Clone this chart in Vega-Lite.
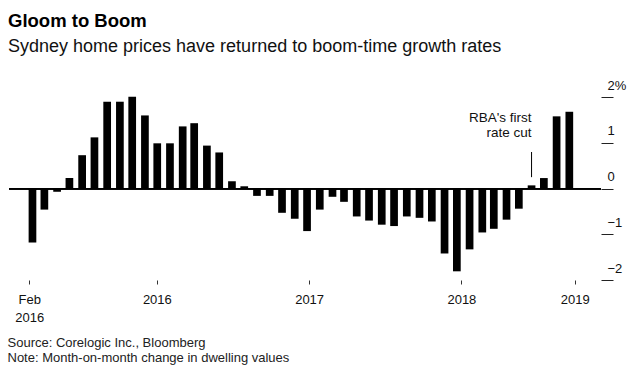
{
  "$schema": "https://vega.github.io/schema/vega-lite/v6.json",
  "autosize": "none",
  "width": 592,
  "height": 192,
  "padding": {"left": 9, "top": 88, "right": 40, "bottom": 102},
  "background": "#ffffff",
  "title": {
    "text": "Gloom to Boom",
    "subtitle": "Sydney home prices have returned to boom-time growth rates",
    "anchor": "start",
    "frame": "group",
    "dx": -1,
    "offset": 23,
    "font": "Liberation Sans",
    "fontSize": 18.5,
    "fontWeight": "bold",
    "color": "#000000",
    "subtitleFont": "Liberation Sans",
    "subtitleFontSize": 18,
    "subtitleColor": "#111111",
    "subtitlePadding": 8
  },
  "config": {
    "view": {"stroke": null},
    "font": "Liberation Sans",
    "text": {"font": "Liberation Sans"}
  },
  "datasets": {
    "prices": [
      {"date": "2016-02-01", "change": -1.18},
      {"date": "2016-03-01", "change": -0.46},
      {"date": "2016-04-01", "change": -0.07},
      {"date": "2016-05-01", "change": 0.23},
      {"date": "2016-06-01", "change": 0.73},
      {"date": "2016-07-01", "change": 1.12},
      {"date": "2016-08-01", "change": 1.9},
      {"date": "2016-09-01", "change": 1.9},
      {"date": "2016-10-01", "change": 2.01},
      {"date": "2016-11-01", "change": 1.6},
      {"date": "2016-12-01", "change": 0.99},
      {"date": "2017-01-01", "change": 0.99},
      {"date": "2017-02-01", "change": 1.36},
      {"date": "2017-03-01", "change": 1.43},
      {"date": "2017-04-01", "change": 0.94},
      {"date": "2017-05-01", "change": 0.79},
      {"date": "2017-06-01", "change": 0.16},
      {"date": "2017-07-01", "change": 0.05},
      {"date": "2017-08-01", "change": -0.16},
      {"date": "2017-09-01", "change": -0.16},
      {"date": "2017-10-01", "change": -0.53},
      {"date": "2017-11-01", "change": -0.66},
      {"date": "2017-12-01", "change": -0.93},
      {"date": "2018-01-01", "change": -0.46},
      {"date": "2018-02-01", "change": -0.18},
      {"date": "2018-03-01", "change": -0.29},
      {"date": "2018-04-01", "change": -0.61},
      {"date": "2018-05-01", "change": -0.7},
      {"date": "2018-06-01", "change": -0.79},
      {"date": "2018-07-01", "change": -0.82},
      {"date": "2018-08-01", "change": -0.61},
      {"date": "2018-09-01", "change": -0.64},
      {"date": "2018-10-01", "change": -0.72},
      {"date": "2018-11-01", "change": -1.42},
      {"date": "2018-12-01", "change": -1.81},
      {"date": "2019-01-01", "change": -1.33},
      {"date": "2019-02-01", "change": -0.96},
      {"date": "2019-03-01", "change": -0.88},
      {"date": "2019-04-01", "change": -0.68},
      {"date": "2019-05-01", "change": -0.44},
      {"date": "2019-06-01", "change": 0.07},
      {"date": "2019-07-01", "change": 0.23},
      {"date": "2019-08-01", "change": 1.58},
      {"date": "2019-09-01", "change": 1.68}
    ],
    "notes": [
      {"date": "2019-06-01", "top": 0.8, "bottom": 0.25, "labelY": 1.46, "label": "RBA's first\nrate cut"}
    ]
  },
  "encoding": {
    "x": {
      "field": "date",
      "type": "temporal",
      "scale": {
        "type": "utc",
        "domain": [
          {"year": 2015, "month": 12, "date": 18, "utc": true},
          {"year": 2019, "month": 11, "date": 5, "utc": true}
        ]
      },
      "axis": {
        "values": [
          {"year": 2016, "month": 1, "date": 24, "utc": true},
          {"year": 2016, "month": 11, "date": 30, "utc": true},
          {"year": 2017, "month": 12, "date": 6, "utc": true},
          {"year": 2018, "month": 12, "date": 12, "utc": true},
          {"year": 2019, "month": 9, "date": 14, "utc": true}
        ],
        "labelExpr": "utcmonth(datum.value) == 0 ? ['Feb', '2016'] : utcFormat(datum.value, '%Y')",
        "domain": false,
        "grid": false,
        "ticks": true,
        "tickSize": 4,
        "tickColor": "#333333",
        "labelFont": "Liberation Sans",
        "labelFontSize": 13,
        "labelColor": "#111111",
        "labelPadding": 9,
        "labelLineHeight": 18,
        "labelAlign": "center",
        "labelFlush": false,
        "labelOverlap": false,
        "labelBound": false,
        "title": ["Source: Corelogic Inc., Bloomberg", "Note: Month-on-month change in dwelling values"],
        "titleFont": "Liberation Sans",
        "titleFontSize": 13,
        "titleFontWeight": "normal",
        "titleColor": "#222222",
        "titleAlign": "left",
        "titleBaseline": "top",
        "titleLineHeight": 15,
        "titleX": -2,
        "titleY": 56
      }
    }
  },
  "layer": [
    {
      "data": {"name": "prices"},
      "mark": {"type": "bar", "width": 7.7, "color": "#000000"},
      "encoding": {
        "y": {
          "field": "change",
          "type": "quantitative",
          "scale": {"domain": [-2, 2.2], "nice": false, "zero": false},
          "axis": {
            "orient": "right",
            "values": [-2, -1, 0, 1, 2],
            "labelExpr": "datum.value == 2 ? '2%' : format(datum.value, 'd')",
            "domain": false,
            "grid": false,
            "ticks": true,
            "tickSize": 12,
            "tickColor": "#222222",
            "labelFont": "Liberation Sans",
            "labelFontSize": 13,
            "labelColor": "#111111",
            "labelAlign": "left",
            "labelBaseline": "alphabetic",
            "labelPadding": -6,
            "labelOffset": -8,
            "labelOverlap": false,
            "labelBound": false,
            "title": null
          }
        }
      }
    },
    {
      "data": {"name": "prices"},
      "mark": {"type": "rule", "color": "#000000", "strokeWidth": 1},
      "encoding": {"x": null, "y": {"datum": 0, "type": "quantitative"}}
    },
    {
      "data": {"name": "notes"},
      "mark": {"type": "rule", "color": "#000000", "strokeWidth": 1},
      "encoding": {
        "y": {"field": "top", "type": "quantitative"},
        "y2": {"field": "bottom"}
      }
    },
    {
      "data": {"name": "notes"},
      "mark": {"type": "text", "align": "right", "baseline": "alphabetic", "fontSize": 13.5, "lineHeight": 15, "lineBreak": "\n", "color": "#111111"},
      "encoding": {
        "y": {"field": "labelY", "type": "quantitative"},
        "text": {"field": "label"}
      }
    }
  ]
}
